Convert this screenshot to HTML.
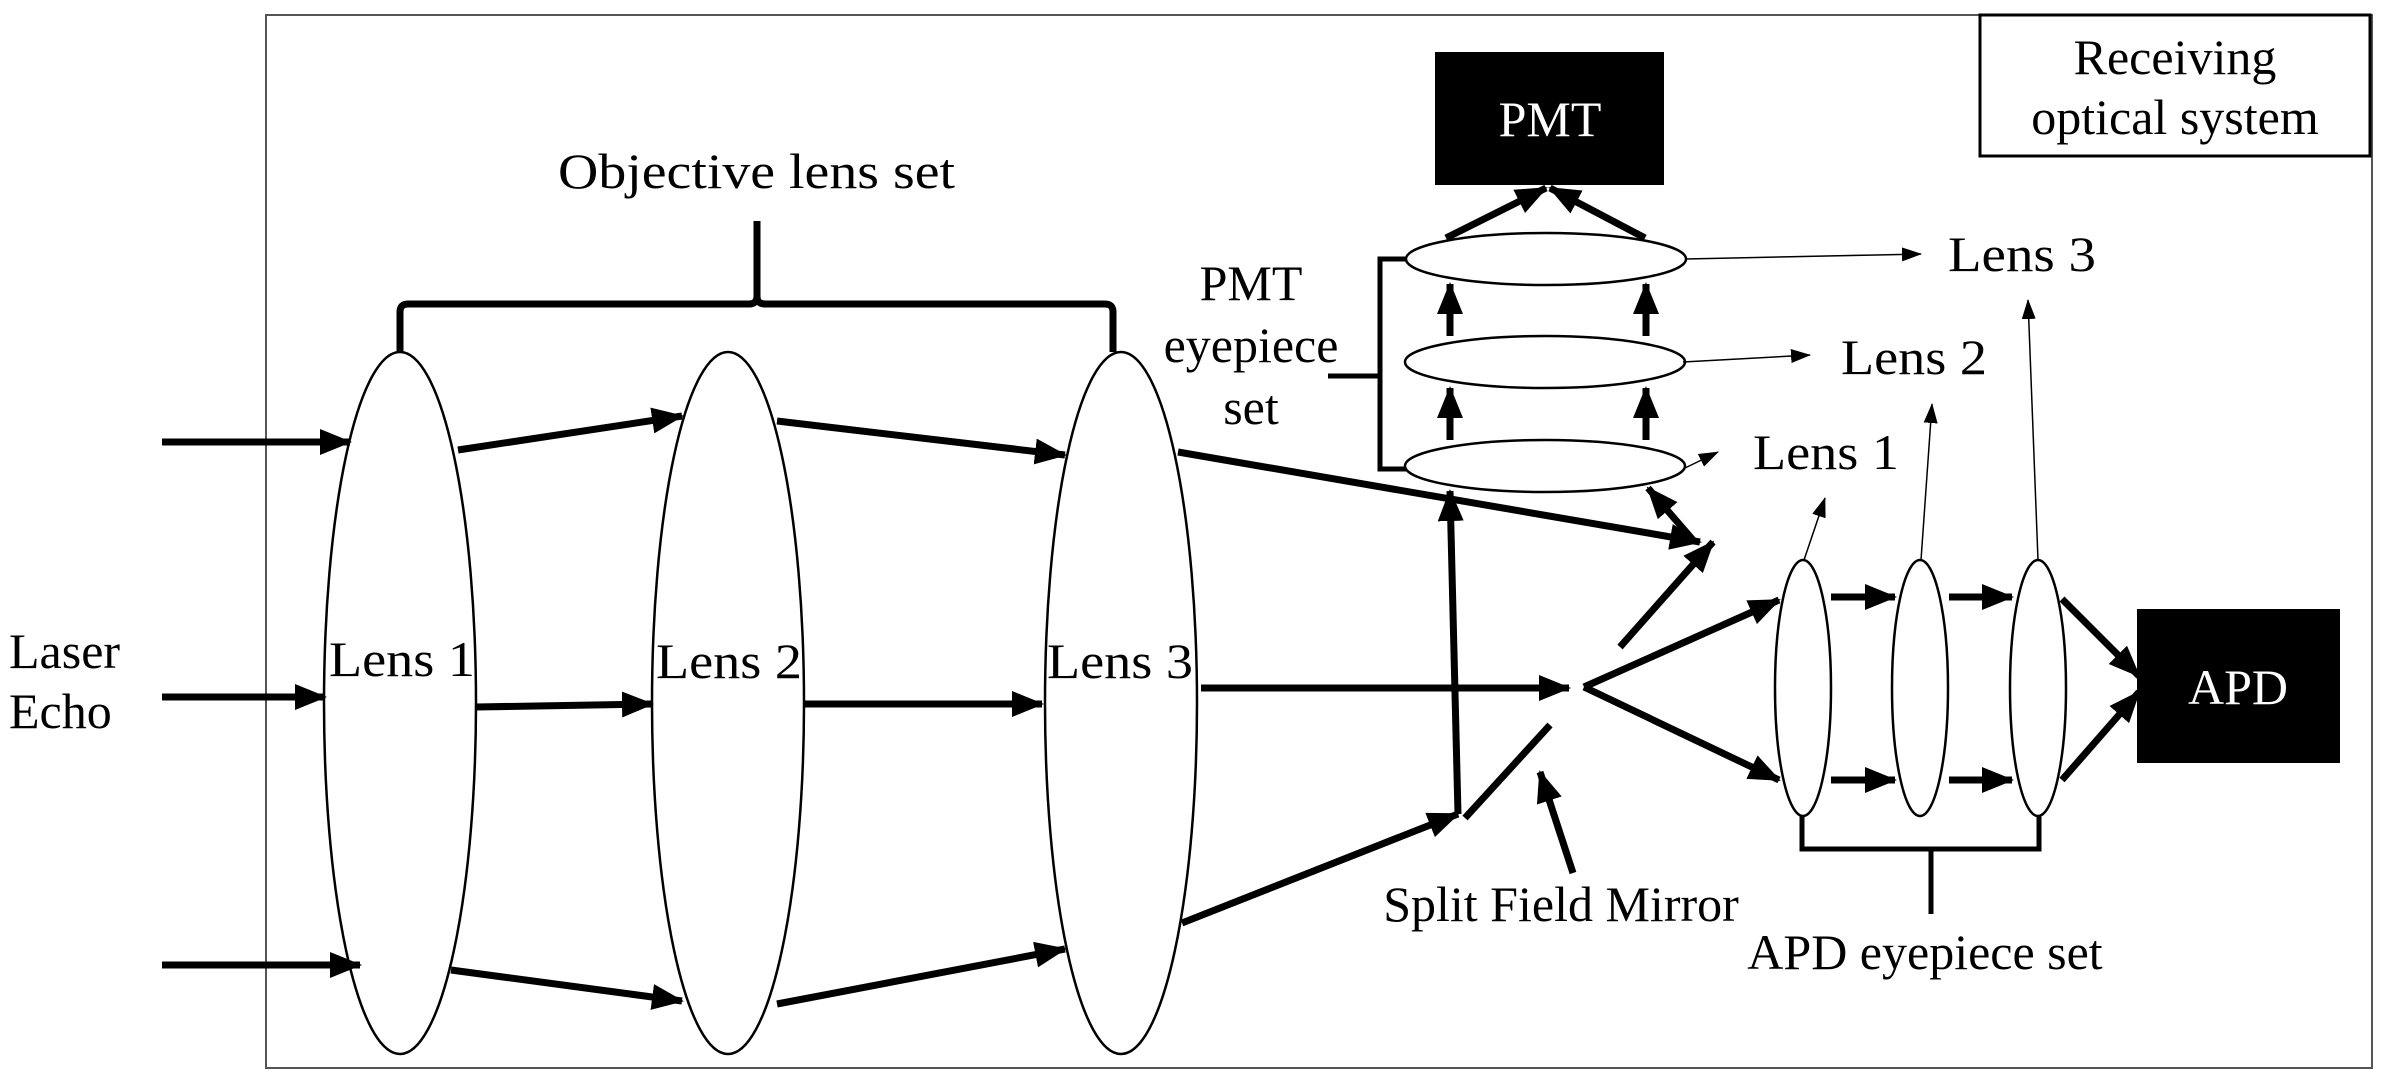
<!DOCTYPE html>
<html><head><meta charset="utf-8"><style>
html,body{margin:0;padding:0;background:#fff;}
svg{display:block;}
text{font-family:"Liberation Serif",serif;fill:#000;}
</style></head><body>
<svg width="2390" height="1082" viewBox="0 0 2390 1082" xmlns="http://www.w3.org/2000/svg">
<defs>
<marker id="a" markerUnits="userSpaceOnUse" markerWidth="32" markerHeight="26" refX="30" refY="13" orient="auto"><path d="M0,0 L32,13 L0,26 Z" fill="#000"/></marker>
<marker id="t" markerUnits="userSpaceOnUse" markerWidth="20" markerHeight="14" refX="19" refY="7" orient="auto"><path d="M0,0 L20,7 L0,14 Z" fill="#000"/></marker>
</defs>
<rect x="266" y="15" width="2106" height="1053" fill="none" stroke="#555" stroke-width="2"/>
<rect x="1980" y="15" width="390" height="141" fill="#fff" stroke="#000" stroke-width="3"/>
<text x="2175" y="74" font-size="50" text-anchor="middle">Receiving</text>
<text x="2175" y="134" font-size="50" text-anchor="middle">optical system</text>

<path d="M400,352 V312 Q400,304 408,304 H749 Q757,304 757,296 V221 M757,296 Q757,304 765,304 H1105 Q1113,304 1113,312 V352" fill="none" stroke="#000" stroke-width="7"/>
<text x="558" y="188" font-size="50" textLength="397" lengthAdjust="spacingAndGlyphs">Objective lens set</text>

<g stroke="#000" stroke-width="7" fill="none" marker-end="url(#a)">
<line x1="162" y1="442" x2="350" y2="442"/>
<line x1="162" y1="697" x2="325" y2="697"/>
<line x1="162" y1="965" x2="360" y2="965"/>
<line x1="458" y1="450" x2="682" y2="416"/>
<line x1="476" y1="707" x2="652" y2="704"/>
<line x1="451" y1="970" x2="682" y2="1001"/>
<line x1="777" y1="421" x2="1065" y2="455"/>
<line x1="805" y1="704" x2="1042" y2="704"/>
<line x1="777" y1="1004" x2="1065" y2="949"/>
</g>
<g fill="none" stroke="#000" stroke-width="2.5">
<ellipse cx="400" cy="703" rx="76" ry="351"/>
<ellipse cx="728" cy="703" rx="76" ry="351"/>
<ellipse cx="1121" cy="703" rx="76" ry="351"/>
</g>
<text x="329" y="676" font-size="50" textLength="146" lengthAdjust="spacingAndGlyphs">Lens 1</text>
<text x="656" y="678" font-size="50" textLength="146" lengthAdjust="spacingAndGlyphs">Lens 2</text>
<text x="1047" y="678" font-size="50" textLength="146" lengthAdjust="spacingAndGlyphs">Lens 3</text>
<text x="9" y="668" font-size="50">Laser</text>
<text x="9" y="728" font-size="50">Echo</text>

<g stroke="#000" stroke-width="7" fill="none" marker-end="url(#a)">
<line x1="1178" y1="452" x2="1700" y2="542"/>
<line x1="1201" y1="688" x2="1569" y2="688"/>
<line x1="1182" y1="923" x2="1458" y2="814"/>
<line x1="1458" y1="814" x2="1450" y2="491"/>
<line x1="1693" y1="540" x2="1648" y2="488"/>
<line x1="1620" y1="647" x2="1713" y2="542"/>
<line x1="1584" y1="687" x2="1779" y2="600"/>
<line x1="1584" y1="687" x2="1779" y2="780"/>
<line x1="1573" y1="873" x2="1540" y2="772"/>
<line x1="1450" y1="440" x2="1450" y2="388"/>
<line x1="1646" y1="440" x2="1646" y2="388"/>
<line x1="1450" y1="336" x2="1450" y2="284"/>
<line x1="1646" y1="336" x2="1646" y2="284"/>
<line x1="1446" y1="238" x2="1546" y2="188"/>
<line x1="1645" y1="238" x2="1550" y2="188"/>
<line x1="1831" y1="597" x2="1895" y2="597"/>
<line x1="1831" y1="780" x2="1895" y2="780"/>
<line x1="1949" y1="597" x2="2012" y2="597"/>
<line x1="1949" y1="780" x2="2012" y2="780"/>
<line x1="2062" y1="599" x2="2139" y2="676"/>
<line x1="2062" y1="780" x2="2139" y2="692"/>
</g>
<line x1="1465" y1="818" x2="1550" y2="725" stroke="#000" stroke-width="7"/>

<rect x="1435" y="52" width="229" height="133" fill="#000"/>
<text x="1550" y="136" font-size="50" text-anchor="middle" style="fill:#fff">PMT</text>
<g fill="#fff" stroke="#000" stroke-width="2.5">
<ellipse cx="1546" cy="259" rx="140" ry="26"/>
<ellipse cx="1545" cy="362" rx="140" ry="26"/>
<ellipse cx="1545" cy="466" rx="140" ry="26"/>
</g>
<path d="M1406,259 H1380 V469 H1406 M1380,376 H1328" fill="none" stroke="#000" stroke-width="5"/>
<text x="1251" y="300" font-size="50" text-anchor="middle">PMT</text>
<text x="1251" y="362" font-size="50" text-anchor="middle">eyepiece</text>
<text x="1251" y="424" font-size="50" text-anchor="middle">set</text>

<g stroke="#000" stroke-width="1.5" fill="none" marker-end="url(#t)">
<line x1="1686" y1="259" x2="1921" y2="254"/>
<line x1="1683" y1="362" x2="1810" y2="355"/>
<line x1="1683" y1="469" x2="1718" y2="452"/>
<line x1="1804" y1="560" x2="1825" y2="498"/>
<line x1="1921" y1="560" x2="1932" y2="404"/>
<line x1="2038" y1="560" x2="2028" y2="300"/>
</g>
<text x="1948" y="271" font-size="50" textLength="148" lengthAdjust="spacingAndGlyphs">Lens 3</text>
<text x="1841" y="374" font-size="50" textLength="146" lengthAdjust="spacingAndGlyphs">Lens 2</text>
<text x="1753" y="469" font-size="50" textLength="146" lengthAdjust="spacingAndGlyphs">Lens 1</text>

<g fill="#fff" stroke="#000" stroke-width="2.5">
<ellipse cx="1803" cy="688" rx="28" ry="128"/>
<ellipse cx="1920" cy="688" rx="28" ry="128"/>
<ellipse cx="2038" cy="688" rx="28" ry="128"/>
</g>
<rect x="2137" y="609" width="203" height="154" fill="#000"/>
<text x="2238" y="704" font-size="50" text-anchor="middle" style="fill:#fff">APD</text>
<path d="M1802,816 V849 H2039 V816 M1931,849 V914" fill="none" stroke="#000" stroke-width="5"/>
<text x="1925" y="969" font-size="50" text-anchor="middle">APD eyepiece set</text>
<text x="1561" y="921" font-size="50" text-anchor="middle">Split Field Mirror</text>
</svg>
</body></html>
